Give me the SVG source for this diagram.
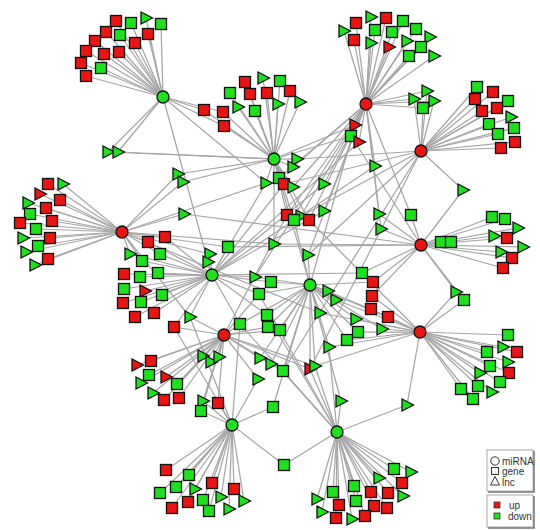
<svg xmlns="http://www.w3.org/2000/svg" width="540" height="530" viewBox="0 0 540 530">
<style>
#edges path{fill:none;stroke:#a6a6a6;stroke-width:1.25}
.nodes use{stroke:#111;stroke-width:1.3}
.r{fill:#e81515}
.g{fill:#1fe01f}
.lg{font-family:"Liberation Sans",Arial,sans-serif;font-size:10px;fill:#333}
</style>
<defs>
<rect id="s" x="-5.5" y="-5.5" width="11" height="11"/>
<path id="t" d="M-5,-6L6.5,0L-5,6Z"/>
<circle id="c" r="6"/>
</defs>
<rect width="540" height="530" fill="#fff"/>
<g id="edges">
<path d="M163 97L116 21"/><path d="M163 97L131 23"/><path d="M163 97L146 18"/><path d="M163 97L161 24"/><path d="M163 97L106 32"/><path d="M163 97L120 35"/><path d="M163 97L148 34"/><path d="M163 97L95 41"/><path d="M163 97L135 43"/><path d="M163 97L86 51"/><path d="M163 97L104 54"/><path d="M163 97L119 52"/><path d="M163 97L81 63"/><path d="M163 97L101 68"/><path d="M163 97L86 76"/><path d="M163 97L108 152"/><path d="M163 97L118 152"/><path d="M163 97L204 110"/><path d="M163 97L223 112"/><path d="M163 97L224 126"/><path d="M163 97L208 262"/><path d="M163 97L266 183"/>
<path d="M366 104L356 23"/><path d="M366 104L371 17"/><path d="M366 104L386 18"/><path d="M366 104L403 21"/><path d="M366 104L344 31"/><path d="M366 104L375 30"/><path d="M366 104L392 32"/><path d="M366 104L416 29"/><path d="M366 104L354 40"/><path d="M366 104L371 43"/><path d="M366 104L389 47"/><path d="M366 104L407 41"/><path d="M366 104L430 37"/><path d="M366 104L421 47"/><path d="M366 104L409 56"/><path d="M366 104L434 56"/><path d="M366 104L414 99"/><path d="M366 104L427 91"/><path d="M366 104L434 101"/><path d="M366 104L423 108"/><path d="M366 104L355 125"/><path d="M366 104L351 136"/><path d="M366 104L359 142"/><path d="M366 104L293 167"/><path d="M366 104L375 166"/><path d="M366 104L324 184"/><path d="M366 104L279 178"/><path d="M366 104L293 187"/><path d="M366 104L287 215"/><path d="M366 104L301 216"/><path d="M366 104L309 220"/><path d="M366 104L324 211"/><path d="M366 104L308 255"/><path d="M366 104L255 277"/><path d="M366 104L379 214"/><path d="M366 104L381 229"/><path d="M366 104L411 215"/>
<path d="M421 151L477 87"/><path d="M421 151L493 92"/><path d="M421 151L475 99"/><path d="M421 151L508 101"/><path d="M421 151L482 111"/><path d="M421 151L497 108"/><path d="M421 151L511 117"/><path d="M421 151L489 124"/><path d="M421 151L514 128"/><path d="M421 151L498 134"/><path d="M421 151L515 142"/><path d="M421 151L501 148"/><path d="M421 151L414 99"/><path d="M421 151L427 91"/><path d="M421 151L434 101"/><path d="M421 151L423 108"/><path d="M421 151L297 159"/><path d="M421 151L284 184"/><path d="M421 151L294 220"/><path d="M421 151L308 255"/><path d="M421 151L283 371"/><path d="M421 151L463 190"/><path d="M421 151L310 369"/>
<path d="M274 159L245 82"/><path d="M274 159L263 78"/><path d="M274 159L280 81"/><path d="M274 159L230 93"/><path d="M274 159L250 94"/><path d="M274 159L267 93"/><path d="M274 159L290 91"/><path d="M274 159L204 110"/><path d="M274 159L223 112"/><path d="M274 159L238 107"/><path d="M274 159L255 111"/><path d="M274 159L278 104"/><path d="M274 159L300 102"/><path d="M274 159L224 126"/><path d="M274 159L108 152"/><path d="M274 159L118 152"/><path d="M274 159L178 174"/><path d="M274 159L183 182"/><path d="M274 159L355 125"/><path d="M274 159L351 136"/><path d="M274 159L297 159"/><path d="M274 159L293 167"/><path d="M274 159L279 178"/><path d="M274 159L284 184"/><path d="M274 159L293 187"/><path d="M274 159L266 183"/><path d="M274 159L287 215"/><path d="M274 159L301 216"/><path d="M274 159L294 220"/><path d="M274 159L309 220"/><path d="M274 159L274 244"/>
<path d="M122 232L48 184"/><path d="M122 232L63 184"/><path d="M122 232L40 194"/><path d="M122 232L60 200"/><path d="M122 232L28 203"/><path d="M122 232L46 208"/><path d="M122 232L30 214"/><path d="M122 232L52 221"/><path d="M122 232L20 223"/><path d="M122 232L36 229"/><path d="M122 232L50 238"/><path d="M122 232L23 238"/><path d="M122 232L38 246"/><path d="M122 232L26 252"/><path d="M122 232L48 259"/><path d="M122 232L35 265"/><path d="M122 232L178 174"/><path d="M122 232L183 182"/><path d="M122 232L184 214"/><path d="M122 232L228 247"/><path d="M122 232L274 244"/><path d="M122 232L210 254"/><path d="M122 232L266 183"/><path d="M122 232L320 313"/><path d="M122 232L190 317"/><path d="M122 232L148 242"/><path d="M122 232L165 237"/><path d="M122 232L130 254"/><path d="M122 232L160 254"/><path d="M122 232L142 261"/>
<path d="M421 245L492 217"/><path d="M421 245L505 219"/><path d="M421 245L518 228"/><path d="M421 245L494 236"/><path d="M421 245L507 238"/><path d="M421 245L441 242"/><path d="M421 245L451 242"/><path d="M421 245L523 247"/><path d="M421 245L501 252"/><path d="M421 245L512 258"/><path d="M421 245L503 268"/><path d="M421 245L411 215"/><path d="M421 245L463 190"/><path d="M421 245L351 136"/><path d="M421 245L228 247"/><path d="M421 245L274 244"/><path d="M421 245L362 273"/><path d="M421 245L372 296"/><path d="M421 245L373 282"/><path d="M421 245L379 214"/><path d="M421 245L381 229"/><path d="M421 245L456 292"/><path d="M421 245L464 300"/><path d="M421 245L184 214"/>
<path d="M212 275L148 242"/><path d="M212 275L165 237"/><path d="M212 275L130 254"/><path d="M212 275L160 254"/><path d="M212 275L142 261"/><path d="M212 275L124 274"/><path d="M212 275L140 277"/><path d="M212 275L158 273"/><path d="M212 275L124 289"/><path d="M212 275L145 291"/><path d="M212 275L162 295"/><path d="M212 275L123 303"/><path d="M212 275L141 302"/><path d="M212 275L154 313"/><path d="M212 275L135 317"/><path d="M212 275L174 327"/><path d="M212 275L210 254"/><path d="M212 275L208 262"/><path d="M212 275L228 247"/><path d="M212 275L266 183"/><path d="M212 275L359 142"/><path d="M212 275L375 166"/><path d="M212 275L324 184"/><path d="M212 275L284 184"/><path d="M212 275L324 211"/><path d="M212 275L362 273"/><path d="M212 275L255 277"/><path d="M212 275L271 282"/><path d="M212 275L259 294"/><path d="M212 275L190 317"/><path d="M212 275L240 324"/><path d="M212 275L267 315"/>
<path d="M310 285L355 125"/><path d="M310 285L279 178"/><path d="M310 285L294 220"/><path d="M310 285L308 255"/><path d="M310 285L255 277"/><path d="M310 285L271 282"/><path d="M310 285L259 294"/><path d="M310 285L328 291"/><path d="M310 285L336 300"/><path d="M310 285L320 313"/><path d="M310 285L267 315"/><path d="M310 285L240 324"/><path d="M310 285L268 327"/><path d="M310 285L280 330"/><path d="M310 285L356 319"/><path d="M310 285L260 358"/><path d="M310 285L271 364"/><path d="M310 285L283 371"/><path d="M310 285L310 369"/><path d="M310 285L315 366"/><path d="M310 285L273 407"/><path d="M310 285L341 401"/><path d="M310 285L329 347"/><path d="M310 285L347 340"/><path d="M310 285L358 332"/><path d="M310 285L382 329"/><path d="M310 285L371 309"/><path d="M310 285L388 317"/><path d="M310 285L373 282"/>
<path d="M224 335L203 356"/><path d="M224 335L211 362"/><path d="M224 335L219 357"/><path d="M224 335L151 361"/><path d="M224 335L137 365"/><path d="M224 335L149 375"/><path d="M224 335L166 377"/><path d="M224 335L141 383"/><path d="M224 335L177 384"/><path d="M224 335L153 393"/><path d="M224 335L164 400"/><path d="M224 335L179 398"/><path d="M224 335L203 401"/><path d="M224 335L218 403"/><path d="M224 335L201 411"/><path d="M224 335L190 317"/><path d="M224 335L240 324"/><path d="M224 335L259 294"/><path d="M224 335L268 327"/><path d="M224 335L280 330"/><path d="M224 335L260 358"/><path d="M224 335L271 364"/><path d="M224 335L283 371"/><path d="M224 335L310 369"/><path d="M224 335L315 366"/><path d="M224 335L258 379"/><path d="M224 335L287 215"/><path d="M224 335L174 327"/>
<path d="M420 332L508 335"/><path d="M420 332L503 347"/><path d="M420 332L517 352"/><path d="M420 332L487 352"/><path d="M420 332L508 362"/><path d="M420 332L490 366"/><path d="M420 332L480 373"/><path d="M420 332L509 373"/><path d="M420 332L500 382"/><path d="M420 332L478 386"/><path d="M420 332L461 389"/><path d="M420 332L492 392"/><path d="M420 332L473 399"/><path d="M420 332L309 220"/><path d="M420 332L328 291"/><path d="M420 332L336 300"/><path d="M420 332L320 313"/><path d="M420 332L356 319"/><path d="M420 332L315 366"/><path d="M420 332L329 347"/><path d="M420 332L347 340"/><path d="M420 332L358 332"/><path d="M420 332L382 329"/><path d="M420 332L371 309"/><path d="M420 332L388 317"/><path d="M420 332L372 296"/><path d="M420 332L456 292"/><path d="M420 332L464 300"/><path d="M420 332L407 405"/>
<path d="M232 425L189 475"/><path d="M232 425L212 483"/><path d="M232 425L234 489"/><path d="M232 425L195 489"/><path d="M232 425L221 497"/><path d="M232 425L244 501"/><path d="M232 425L188 502"/><path d="M232 425L203 500"/><path d="M232 425L209 511"/><path d="M232 425L229 509"/><path d="M232 425L166 470"/><path d="M232 425L176 487"/><path d="M232 425L160 493"/><path d="M232 425L172 508"/><path d="M232 425L284 465"/><path d="M232 425L203 401"/><path d="M232 425L218 403"/><path d="M232 425L201 411"/><path d="M232 425L258 379"/><path d="M232 425L273 407"/><path d="M232 425L190 317"/><path d="M232 425L240 324"/><path d="M232 425L174 327"/>
<path d="M337 432L394 469"/><path d="M337 432L411 472"/><path d="M337 432L379 478"/><path d="M337 432L402 483"/><path d="M337 432L354 486"/><path d="M337 432L333 492"/><path d="M337 432L371 492"/><path d="M337 432L388 493"/><path d="M337 432L403 496"/><path d="M337 432L317 499"/><path d="M337 432L356 501"/><path d="M337 432L339 505"/><path d="M337 432L374 506"/><path d="M337 432L387 508"/><path d="M337 432L322 512"/><path d="M337 432L365 516"/><path d="M337 432L336 518"/><path d="M337 432L352 519"/><path d="M337 432L284 465"/><path d="M337 432L341 401"/><path d="M337 432L407 405"/><path d="M337 432L329 347"/><path d="M337 432L310 369"/><path d="M337 432L315 366"/><path d="M337 432L283 371"/><path d="M337 432L259 294"/><path d="M337 432L240 324"/><path d="M337 432L267 315"/>
</g>
<g class="nodes" id="genes-lnc">
<g id="a1"><use href="#s" x="116" y="21" class="r"/></g><g id="a2"><use href="#s" x="131" y="23" class="g"/></g><g id="a3"><use href="#t" x="146" y="18" class="g"/></g><g id="a4"><use href="#s" x="161" y="24" class="g"/></g><g id="a5"><use href="#s" x="106" y="32" class="r"/></g><g id="a6"><use href="#s" x="120" y="35" class="g"/></g><g id="a7"><use href="#s" x="148" y="34" class="r"/></g><g id="a8"><use href="#s" x="95" y="41" class="r"/></g><g id="a9"><use href="#s" x="135" y="43" class="r"/></g><g id="a10"><use href="#s" x="86" y="51" class="r"/></g><g id="a11"><use href="#s" x="104" y="54" class="r"/></g><g id="a12"><use href="#s" x="119" y="52" class="r"/></g><g id="a13"><use href="#s" x="81" y="63" class="r"/></g><g id="a14"><use href="#s" x="101" y="68" class="g"/></g><g id="a15"><use href="#s" x="86" y="76" class="r"/></g><g id="a16"><use href="#t" x="108" y="152" class="g"/></g><g id="a17"><use href="#t" x="118" y="152" class="g"/></g>
<g id="b1"><use href="#s" x="356" y="23" class="r"/></g><g id="b2"><use href="#t" x="371" y="17" class="g"/></g><g id="b3"><use href="#s" x="386" y="18" class="r"/></g><g id="b4"><use href="#s" x="403" y="21" class="g"/></g><g id="b5"><use href="#t" x="344" y="31" class="g"/></g><g id="b6"><use href="#s" x="375" y="30" class="g"/></g><g id="b7"><use href="#s" x="392" y="32" class="g"/></g><g id="b8"><use href="#s" x="416" y="29" class="g"/></g><g id="b9"><use href="#s" x="354" y="40" class="r"/></g><g id="b10"><use href="#t" x="371" y="43" class="g"/></g><g id="b11"><use href="#t" x="389" y="47" class="r"/></g><g id="b12"><use href="#t" x="407" y="41" class="g"/></g><g id="b13"><use href="#t" x="430" y="37" class="g"/></g><g id="b14"><use href="#s" x="421" y="47" class="g"/></g><g id="b15"><use href="#s" x="409" y="56" class="g"/></g><g id="b16"><use href="#t" x="434" y="56" class="g"/></g><g id="b17"><use href="#t" x="414" y="99" class="g"/></g><g id="b18"><use href="#t" x="427" y="91" class="g"/></g><g id="b19"><use href="#t" x="434" y="101" class="g"/></g><g id="b20"><use href="#s" x="423" y="108" class="g"/></g>
<g id="c1"><use href="#s" x="477" y="87" class="g"/></g><g id="c2"><use href="#s" x="493" y="92" class="r"/></g><g id="c3"><use href="#s" x="475" y="99" class="r"/></g><g id="c4"><use href="#s" x="508" y="101" class="g"/></g><g id="c5"><use href="#s" x="482" y="111" class="r"/></g><g id="c6"><use href="#s" x="497" y="108" class="r"/></g><g id="c7"><use href="#t" x="511" y="117" class="g"/></g><g id="c8"><use href="#s" x="489" y="124" class="g"/></g><g id="c9"><use href="#s" x="514" y="128" class="g"/></g><g id="c10"><use href="#s" x="498" y="134" class="g"/></g><g id="c11"><use href="#s" x="515" y="142" class="r"/></g><g id="c12"><use href="#s" x="501" y="148" class="r"/></g><g id="c13"><use href="#t" x="463" y="190" class="g"/></g>
<g id="d1"><use href="#s" x="245" y="82" class="r"/></g><g id="d2"><use href="#t" x="263" y="78" class="g"/></g><g id="d3"><use href="#s" x="280" y="81" class="g"/></g><g id="d4"><use href="#s" x="230" y="93" class="g"/></g><g id="d5"><use href="#s" x="250" y="94" class="r"/></g><g id="d6"><use href="#s" x="267" y="93" class="r"/></g><g id="d7"><use href="#s" x="290" y="91" class="r"/></g><g id="d8"><use href="#s" x="204" y="110" class="r"/></g><g id="d9"><use href="#s" x="223" y="112" class="r"/></g><g id="d10"><use href="#t" x="238" y="107" class="g"/></g><g id="d11"><use href="#s" x="255" y="111" class="g"/></g><g id="d12"><use href="#t" x="278" y="104" class="g"/></g><g id="d13"><use href="#t" x="300" y="102" class="g"/></g><g id="d14"><use href="#s" x="224" y="126" class="r"/></g>
<g id="m1"><use href="#t" x="355" y="125" class="r"/></g><g id="m2"><use href="#s" x="351" y="136" class="g"/></g><g id="m3"><use href="#t" x="359" y="142" class="r"/></g><g id="m4"><use href="#t" x="297" y="159" class="g"/></g><g id="m5"><use href="#t" x="293" y="167" class="g"/></g><g id="m6"><use href="#t" x="375" y="166" class="g"/></g><g id="m7"><use href="#t" x="324" y="184" class="g"/></g><g id="m8"><use href="#s" x="279" y="178" class="g"/></g><g id="m9"><use href="#s" x="284" y="184" class="r"/></g><g id="m10"><use href="#t" x="293" y="187" class="g"/></g><g id="m11"><use href="#t" x="266" y="183" class="g"/></g><g id="m12"><use href="#t" x="178" y="174" class="g"/></g><g id="m13"><use href="#t" x="183" y="182" class="g"/></g><g id="m14"><use href="#t" x="184" y="214" class="g"/></g><g id="m15"><use href="#s" x="287" y="215" class="r"/></g><g id="m16"><use href="#t" x="301" y="216" class="g"/></g><g id="m17"><use href="#s" x="294" y="220" class="g"/></g><g id="m18"><use href="#s" x="309" y="220" class="r"/></g><g id="m19"><use href="#t" x="324" y="211" class="g"/></g><g id="m20"><use href="#s" x="228" y="247" class="g"/></g><g id="m21"><use href="#t" x="274" y="244" class="g"/></g><g id="m22"><use href="#t" x="210" y="254" class="g"/></g><g id="m23"><use href="#t" x="208" y="262" class="g"/></g><g id="m24"><use href="#t" x="308" y="255" class="g"/></g><g id="m25"><use href="#s" x="362" y="273" class="g"/></g><g id="m26"><use href="#t" x="255" y="277" class="g"/></g><g id="m27"><use href="#s" x="271" y="282" class="g"/></g><g id="m28"><use href="#s" x="259" y="294" class="g"/></g><g id="m29"><use href="#t" x="328" y="291" class="g"/></g><g id="m30"><use href="#t" x="336" y="300" class="g"/></g><g id="m31"><use href="#t" x="320" y="313" class="g"/></g><g id="m32"><use href="#t" x="190" y="317" class="g"/></g><g id="m33"><use href="#s" x="267" y="315" class="g"/></g><g id="m34"><use href="#s" x="240" y="324" class="g"/></g><g id="m35"><use href="#s" x="268" y="327" class="g"/></g><g id="m36"><use href="#s" x="280" y="330" class="g"/></g><g id="m37"><use href="#t" x="356" y="319" class="g"/></g><g id="m38"><use href="#t" x="260" y="358" class="g"/></g><g id="m39"><use href="#t" x="271" y="364" class="g"/></g><g id="m40"><use href="#s" x="283" y="371" class="g"/></g><g id="m41"><use href="#t" x="310" y="369" class="r"/></g><g id="m42"><use href="#t" x="315" y="366" class="g"/></g><g id="m43"><use href="#t" x="258" y="379" class="g"/></g><g id="m44"><use href="#s" x="273" y="407" class="g"/></g><g id="m45"><use href="#t" x="341" y="401" class="g"/></g><g id="m46"><use href="#t" x="329" y="347" class="g"/></g><g id="m47"><use href="#s" x="347" y="340" class="g"/></g><g id="m48"><use href="#s" x="358" y="332" class="g"/></g><g id="m49"><use href="#t" x="382" y="329" class="g"/></g><g id="m50"><use href="#s" x="371" y="309" class="r"/></g><g id="m51"><use href="#s" x="388" y="317" class="r"/></g><g id="m52"><use href="#s" x="372" y="296" class="r"/></g><g id="m53"><use href="#s" x="373" y="282" class="r"/></g><g id="m54"><use href="#t" x="379" y="214" class="g"/></g><g id="m55"><use href="#t" x="381" y="229" class="g"/></g><g id="m56"><use href="#s" x="411" y="215" class="g"/></g><g id="m57"><use href="#t" x="456" y="292" class="g"/></g><g id="m58"><use href="#s" x="464" y="300" class="g"/></g><g id="m59"><use href="#t" x="407" y="405" class="g"/></g><g id="m60"><use href="#s" x="284" y="465" class="g"/></g>
<g id="e1"><use href="#s" x="48" y="184" class="r"/></g><g id="e2"><use href="#t" x="63" y="184" class="g"/></g><g id="e3"><use href="#t" x="40" y="194" class="r"/></g><g id="e4"><use href="#s" x="60" y="200" class="r"/></g><g id="e5"><use href="#t" x="28" y="203" class="g"/></g><g id="e6"><use href="#s" x="46" y="208" class="r"/></g><g id="e7"><use href="#s" x="30" y="214" class="g"/></g><g id="e8"><use href="#s" x="52" y="221" class="r"/></g><g id="e9"><use href="#s" x="20" y="223" class="r"/></g><g id="e10"><use href="#s" x="36" y="229" class="g"/></g><g id="e11"><use href="#s" x="50" y="238" class="r"/></g><g id="e12"><use href="#t" x="23" y="238" class="g"/></g><g id="e13"><use href="#s" x="38" y="246" class="g"/></g><g id="e14"><use href="#t" x="26" y="252" class="g"/></g><g id="e15"><use href="#s" x="48" y="259" class="r"/></g><g id="e16"><use href="#t" x="35" y="265" class="g"/></g>
<g id="g1"><use href="#s" x="148" y="242" class="r"/></g><g id="g2"><use href="#s" x="165" y="237" class="r"/></g><g id="g3"><use href="#t" x="130" y="254" class="g"/></g><g id="g4"><use href="#s" x="160" y="254" class="g"/></g><g id="g5"><use href="#s" x="142" y="261" class="g"/></g><g id="g6"><use href="#s" x="124" y="274" class="r"/></g><g id="g7"><use href="#s" x="140" y="277" class="g"/></g><g id="g8"><use href="#s" x="158" y="273" class="g"/></g><g id="g9"><use href="#s" x="124" y="289" class="g"/></g><g id="g10"><use href="#t" x="145" y="291" class="r"/></g><g id="g11"><use href="#s" x="162" y="295" class="g"/></g><g id="g12"><use href="#s" x="123" y="303" class="r"/></g><g id="g13"><use href="#s" x="141" y="302" class="g"/></g><g id="g14"><use href="#s" x="154" y="313" class="r"/></g><g id="g15"><use href="#s" x="135" y="317" class="r"/></g><g id="g16"><use href="#s" x="174" y="327" class="r"/></g>
<g id="f1"><use href="#s" x="492" y="217" class="g"/></g><g id="f2"><use href="#s" x="505" y="219" class="g"/></g><g id="f3"><use href="#t" x="518" y="228" class="g"/></g><g id="f4"><use href="#t" x="494" y="236" class="g"/></g><g id="f5"><use href="#s" x="507" y="238" class="r"/></g><g id="f6"><use href="#s" x="441" y="242" class="g"/></g><g id="f7"><use href="#s" x="451" y="242" class="g"/></g><g id="f8"><use href="#t" x="523" y="247" class="g"/></g><g id="f9"><use href="#t" x="501" y="252" class="g"/></g><g id="f10"><use href="#s" x="512" y="258" class="r"/></g><g id="f11"><use href="#s" x="503" y="268" class="r"/></g>
<g id="i1"><use href="#t" x="203" y="356" class="g"/></g><g id="i2"><use href="#t" x="211" y="362" class="g"/></g><g id="i3"><use href="#t" x="219" y="357" class="g"/></g><g id="i4"><use href="#s" x="151" y="361" class="r"/></g><g id="i5"><use href="#t" x="137" y="365" class="r"/></g><g id="i6"><use href="#s" x="149" y="375" class="g"/></g><g id="i7"><use href="#t" x="166" y="377" class="r"/></g><g id="i8"><use href="#t" x="141" y="383" class="g"/></g><g id="i9"><use href="#s" x="177" y="384" class="g"/></g><g id="i10"><use href="#t" x="153" y="393" class="g"/></g><g id="i11"><use href="#s" x="164" y="400" class="r"/></g><g id="i12"><use href="#s" x="179" y="398" class="r"/></g><g id="i13"><use href="#t" x="203" y="401" class="g"/></g><g id="i14"><use href="#s" x="218" y="403" class="r"/></g><g id="i15"><use href="#s" x="201" y="411" class="g"/></g>
<g id="j1"><use href="#s" x="508" y="335" class="g"/></g><g id="j2"><use href="#t" x="503" y="347" class="g"/></g><g id="j3"><use href="#s" x="517" y="352" class="r"/></g><g id="j4"><use href="#s" x="487" y="352" class="g"/></g><g id="j5"><use href="#t" x="508" y="362" class="g"/></g><g id="j6"><use href="#s" x="490" y="366" class="g"/></g><g id="j7"><use href="#t" x="480" y="373" class="g"/></g><g id="j8"><use href="#s" x="509" y="373" class="r"/></g><g id="j9"><use href="#s" x="500" y="382" class="g"/></g><g id="j10"><use href="#s" x="478" y="386" class="g"/></g><g id="j11"><use href="#s" x="461" y="389" class="g"/></g><g id="j12"><use href="#t" x="492" y="392" class="g"/></g><g id="j13"><use href="#s" x="473" y="399" class="g"/></g>
<g id="k1"><use href="#s" x="189" y="475" class="g"/></g><g id="k2"><use href="#s" x="212" y="483" class="r"/></g><g id="k3"><use href="#s" x="234" y="489" class="r"/></g><g id="k4"><use href="#t" x="195" y="489" class="g"/></g><g id="k5"><use href="#t" x="221" y="497" class="g"/></g><g id="k6"><use href="#t" x="244" y="501" class="g"/></g><g id="k7"><use href="#s" x="188" y="502" class="r"/></g><g id="k8"><use href="#s" x="203" y="500" class="g"/></g><g id="k9"><use href="#s" x="209" y="511" class="g"/></g><g id="k10"><use href="#t" x="229" y="509" class="g"/></g><g id="k11"><use href="#s" x="166" y="470" class="r"/></g><g id="k12"><use href="#s" x="176" y="487" class="g"/></g><g id="k13"><use href="#s" x="160" y="493" class="g"/></g><g id="k14"><use href="#s" x="172" y="508" class="r"/></g>
<g id="l1"><use href="#s" x="394" y="469" class="g"/></g><g id="l2"><use href="#t" x="411" y="472" class="g"/></g><g id="l3"><use href="#t" x="379" y="478" class="g"/></g><g id="l4"><use href="#s" x="402" y="483" class="r"/></g><g id="l5"><use href="#s" x="354" y="486" class="g"/></g><g id="l6"><use href="#s" x="333" y="492" class="g"/></g><g id="l7"><use href="#s" x="371" y="492" class="r"/></g><g id="l8"><use href="#s" x="388" y="493" class="r"/></g><g id="l9"><use href="#t" x="403" y="496" class="g"/></g><g id="l10"><use href="#t" x="317" y="499" class="g"/></g><g id="l11"><use href="#s" x="356" y="501" class="g"/></g><g id="l12"><use href="#s" x="339" y="505" class="r"/></g><g id="l13"><use href="#s" x="374" y="506" class="r"/></g><g id="l14"><use href="#s" x="387" y="508" class="r"/></g><g id="l15"><use href="#t" x="322" y="512" class="g"/></g><g id="l16"><use href="#s" x="365" y="516" class="r"/></g><g id="l17"><use href="#s" x="336" y="518" class="r"/></g><g id="l18"><use href="#t" x="352" y="519" class="g"/></g>
</g>
<g class="nodes" id="mirnas">
<g id="hA"><use href="#c" x="163" y="97" class="g"/></g>
<g id="hB"><use href="#c" x="366" y="104" class="r"/></g>
<g id="hC"><use href="#c" x="421" y="151" class="r"/></g>
<g id="hD"><use href="#c" x="274" y="159" class="g"/></g>
<g id="hE"><use href="#c" x="122" y="232" class="r"/></g>
<g id="hF"><use href="#c" x="421" y="245" class="r"/></g>
<g id="hG"><use href="#c" x="212" y="275" class="g"/></g>
<g id="hH"><use href="#c" x="310" y="285" class="g"/></g>
<g id="hI"><use href="#c" x="224" y="335" class="r"/></g>
<g id="hJ"><use href="#c" x="420" y="332" class="r"/></g>
<g id="hK"><use href="#c" x="232" y="425" class="g"/></g>
<g id="hL"><use href="#c" x="337" y="432" class="g"/></g>
</g>
<g id="legend-type">
<rect x="487" y="450" width="46" height="41" fill="#fff" stroke="#aaa" stroke-width="1"/>
<path d="M534 451V492H488" fill="none" stroke="#777" stroke-width="1.5"/>
<circle cx="495" cy="461" r="4.2" fill="none" stroke="#333" stroke-width="1"/>
<text class="lg" x="502" y="464.5">miRNA</text>
<rect x="491.5" y="467.5" width="7" height="7" fill="none" stroke="#333" stroke-width="1"/>
<text class="lg" x="502" y="475">gene</text>
<path d="M495 476.5L499.5 485L490.5 485Z" fill="none" stroke="#333" stroke-width="1"/>
<text class="lg" x="502" y="485.5">lnc</text>
</g>
<g id="legend-reg">
<rect x="487" y="495" width="46" height="32" fill="#fff" stroke="#aaa" stroke-width="1"/>
<path d="M534 496V528H488" fill="none" stroke="#777" stroke-width="1.5"/>
<rect x="494" y="502" width="6" height="6" fill="#e81515" stroke="#333" stroke-width="0.8"/>
<text class="lg" x="509" y="508.5">up</text>
<rect x="494" y="513" width="6" height="6" fill="#1fe01f" stroke="#333" stroke-width="0.8"/>
<text class="lg" x="508" y="519.5">down</text>
</g>
</svg>
